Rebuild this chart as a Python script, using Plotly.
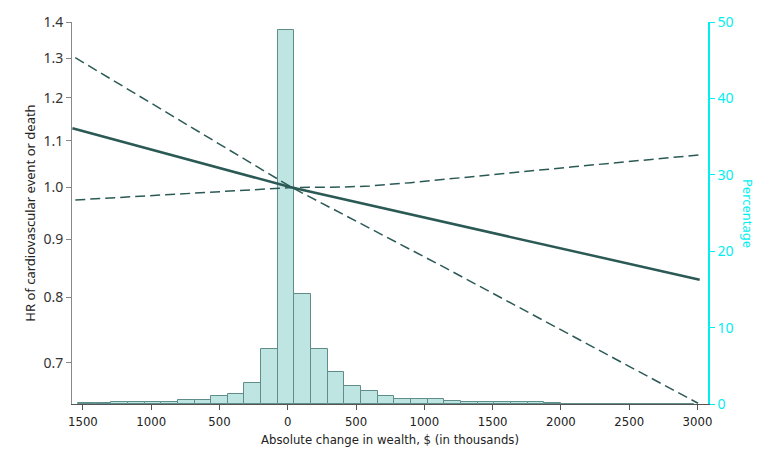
import numpy as np
import plotly.graph_objects as go

# histogram of wealth change (percentage of participants per bin)
bin_centers = [-1476, -1354, -1232, -1110, -988, -866, -744, -622, -500, -378,
               -256, -134, -12, 110, 232, 354, 476, 598, 720, 842,
               964, 1086, 1208, 1330, 1452, 1574, 1696, 1818, 1940, 2062,
               2184, 2306, 2428, 2550, 2672, 2794, 2916]
bin_pct = [0.1, 0.1, 0.2, 0.2, 0.3, 0.3, 0.5, 0.5, 1.0, 1.3,
           2.7, 7.2, 48.9, 14.4, 7.2, 4.2, 2.35, 1.75, 1.1, 0.6,
           0.6, 0.6, 0.45, 0.3, 0.3, 0.2, 0.2, 0.2, 0.15, 0.05,
           0.05, 0.05, 0.05, 0.05, 0.05, 0.05, 0.05]

# hazard ratio curves
hr_x = [-1577, 30, 3016]
hr = [1.128, 1.0, 0.829]

steep_x = [-1556, 30, 1116, 3004]
steep_ci = [1.302, 1.0, 0.854, 0.645]

flat_x = [-1556, 30, 400, 600, 900, 1116, 2089, 3028]
flat_ci = [0.975, 1.0, 1.001, 1.003, 1.01, 1.016, 1.043, 1.069]

x_ticks = [-1500, -1000, -500, 0, 500, 1000, 1500, 2000, 2500, 3000]
x_labels = ["1500", "1000", "500", "0", "500", "1000", "1500", "2000", "2500", "3000"]
hr_ticks = [0.7, 0.8, 0.9, 1.0, 1.1, 1.2, 1.3, 1.4]
hr_labels = ["0.7", "0.8", "0.9", "1.0", "1.1", "1.2", "1.3", "1.4"]

line_col = "#2b5a56"
cyan = "#00eef0"
narrow = "Liberation Sans Narrow, DejaVu Sans Condensed, Roboto"

fig = go.Figure()

fig.add_trace(go.Bar(
    x=bin_centers, y=bin_pct, width=122,
    marker=dict(color="#bfe5e3", line=dict(color="#5f8d8a", width=1)),
    yaxis="y", showlegend=False,
))

fig.add_trace(go.Scatter(x=steep_x, y=steep_ci, mode="lines", yaxis="y2",
                         line=dict(color=line_col, width=1.5, dash="10px,5px"),
                         showlegend=False))
fig.add_trace(go.Scatter(x=flat_x, y=flat_ci, mode="lines", yaxis="y2",
                         line=dict(color=line_col, width=1.5, dash="10px,5px"),
                         showlegend=False))
fig.add_trace(go.Scatter(x=hr_x, y=hr, mode="lines", yaxis="y2",
                         line=dict(color=line_col, width=2.5),
                         showlegend=False))

# reference line at HR = 1 (log axis -> log10(1) = 0)
fig.add_shape(type="line", xref="paper", yref="y2", x0=0, x1=1, y0=0, y1=0,
              line=dict(color="#444444", width=1, dash="1px,2px"))

fig.add_annotation(text="Percentage", xref="paper", yref="paper",
                   x=1.063, y=0.5, xanchor="center", yanchor="middle",
                   showarrow=False, textangle=90,
                   font=dict(family="Noto Sans", size=13, color=cyan))

fig.update_layout(
    width=780, height=459,
    margin=dict(l=72, r=72, t=19, b=55),
    plot_bgcolor="white", paper_bgcolor="white",
    bargap=0,
    xaxis=dict(
        range=[-1580, 3077], tickvals=x_ticks, ticktext=x_labels,
        showgrid=False, zeroline=False, showline=True, linecolor="#555555",
        ticks="outside", ticklen=5, tickcolor="#555555",
        tickfont=dict(family=narrow, size=13, color="#222222"),
        title=dict(text="Absolute change in wealth, $ (in thousands)",
                   font=dict(family=narrow, size=13, color="#222222"),
                   standoff=7),
    ),
    yaxis=dict(
        range=[0, 50], side="right", dtick=10,
        showgrid=False, zeroline=False, showline=True, linecolor=cyan, linewidth=1.5,
        ticks="outside", ticklen=5, tickcolor=cyan,
        tickfont=dict(family="Noto Sans", size=14, color=cyan),
    ),
    yaxis2=dict(
        type="log", overlaying="y", side="left",
        range=[np.log10(0.644), np.log10(1.4)],
        tickvals=hr_ticks, ticktext=hr_labels,
        showgrid=False, zeroline=False, showline=True, linecolor="#888888",
        ticks="outside", ticklen=5, tickcolor="#888888",
        tickfont=dict(family="Noto Sans", size=14, color="#333333"),
        title=dict(text="HR of cardiovascular event or death",
                   font=dict(family="Noto Sans", size=13, color="#222222"),
                   standoff=4),
    ),
)

fig.write_html("out.html", config={"displayModeBar": False},
               post_script="document.body.style.margin='0px';")
